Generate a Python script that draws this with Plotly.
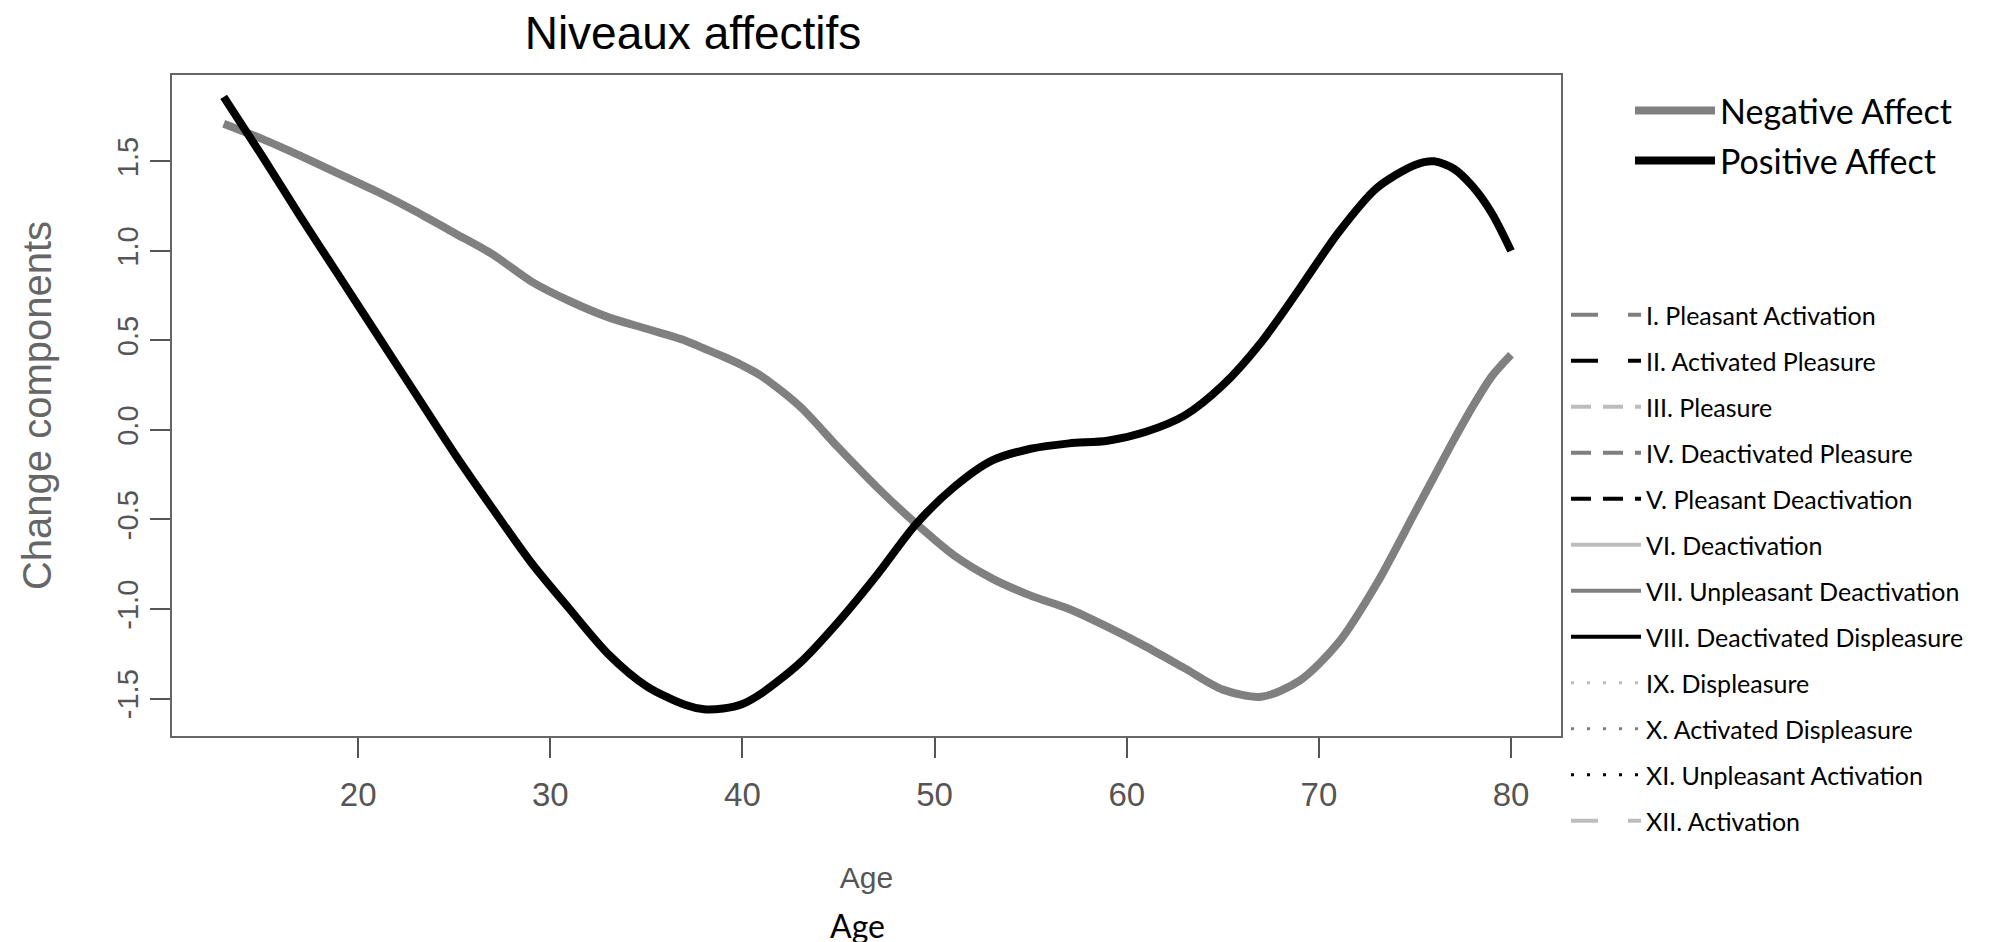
import plotly.graph_objects as go

# ---------------- data ----------------
ages = [13, 15, 17, 19, 21, 23, 25, 27, 29, 31, 33, 35, 37, 38, 39, 40, 41, 43, 45, 47,
        49, 51, 53, 55, 57, 59, 61, 63, 65, 67, 69, 71, 73, 75, 76, 77, 78, 79, 80]

positive_affect = [1.86, 1.53, 1.19, 0.86, 0.53, 0.20, -0.13, -0.44, -0.74, -1.00, -1.25,
                   -1.43, -1.535, -1.56, -1.555, -1.53, -1.47, -1.30, -1.07, -0.81,
                   -0.53, -0.32, -0.17, -0.105, -0.075, -0.06, -0.01, 0.08, 0.25, 0.49,
                   0.79, 1.10, 1.35, 1.48, 1.50, 1.46, 1.36, 1.21, 1.00]

negative_affect = [1.71, 1.625, 1.53, 1.43, 1.33, 1.22, 1.10, 0.98, 0.83, 0.72, 0.63,
                   0.565, 0.50, 0.455, 0.41, 0.36, 0.30, 0.13, -0.10, -0.32,
                   -0.52, -0.70, -0.83, -0.925, -1.00, -1.10, -1.21, -1.33, -1.45, -1.49,
                   -1.40, -1.19, -0.86, -0.46, -0.26, -0.06, 0.13, 0.30, 0.42]

x_tick_vals = [20, 30, 40, 50, 60, 70, 80]
y_tick_vals = [-1.5, -1.0, -0.5, 0.0, 0.5, 1.0, 1.5]
y_tick_text = ["-1.5", "-1.0", "-0.5", "0.0", "0.5", "1.0", "1.5"]

component_names = [
    "I. Pleasant Activation", "II. Activated Pleasure", "III. Pleasure",
    "IV. Deactivated Pleasure", "V. Pleasant Deactivation", "VI. Deactivation",
    "VII. Unpleasant Deactivation", "VIII. Deactivated Displeasure", "IX. Displeasure",
    "X. Activated Displeasure", "XI. Unpleasant Activation", "XII. Activation",
]

# ---------------- styles ----------------
LIGHT, MID, DARK = "#BDBDBD", "#7F7F7F", "#000000"
component_colors = [MID, DARK, LIGHT, MID, DARK, LIGHT, MID, DARK, LIGHT, MID, DARK, LIGHT]
LONG, SHORT, DOT = "27px,30px", "20px,12px", "3px,13px"
component_dashes = [LONG, LONG, SHORT, SHORT, SHORT, "solid", "solid", "solid", DOT, DOT, DOT, LONG]

W, H = 2003, 942
L, R, T, B = 164, 1553, 67, 728

fig = go.Figure()

legend_layouts = {}
main_font = dict(family="Lato, sans-serif", size=34, color="#000000")
comp_font = dict(family="Lato, sans-serif", size=25, color="#000000")

main_series = [("Negative Affect", negative_affect, "#808080", 103),
               ("Positive Affect", positive_affect, "#000000", 153)]
for i, (name, vals, col, yc) in enumerate(main_series):
    key = "legend" if i == 0 else f"legend{i + 1}"
    fig.add_trace(go.Scatter(x=ages, y=vals, mode="lines", name=name, showlegend=True,
                             line=dict(color=col, width=8, shape="spline", smoothing=0.8),
                             legend=key))
    legend_layouts[key] = dict(x=1622 / W, xref="container", xanchor="left",
                               y=1 - yc / H, yref="container", yanchor="middle",
                               font=main_font, itemwidth=80,
                               bgcolor="rgba(0,0,0,0)", borderwidth=0)

for j, (name, col, dash) in enumerate(zip(component_names, component_colors, component_dashes)):
    key = f"legend{j + 3}"
    fig.add_trace(go.Scatter(x=[None], y=[None], mode="lines", name=name, showlegend=True,
                             line=dict(color=col, width=4 if dash != DOT else 3, dash=dash),
                             legend=key, hoverinfo="skip"))
    yc = 307 + 46.0 * j
    legend_layouts[key] = dict(x=1558 / W, xref="container", xanchor="left",
                               y=1 - yc / H, yref="container", yanchor="middle",
                               font=comp_font, itemwidth=70,
                               bgcolor="rgba(0,0,0,0)", borderwidth=0)

axis_font = dict(family="Liberation Sans, Arial, sans-serif", color="#555555")

fig.update_layout(
    width=W, height=H,
    showlegend=True,
    margin=dict(l=L, r=W - R, t=T, b=H - B, autoexpand=False),
    paper_bgcolor="white", plot_bgcolor="white",
    title=dict(text="Niveaux affectifs", x=685 / W, xref="container", xanchor="center",
               y=1 - 25 / H, yref="container", yanchor="middle",
               font=dict(family="Liberation Sans, Arial, sans-serif", size=46, color="#000000")),
    xaxis=dict(range=[10.31, 82.6], tickvals=x_tick_vals, ticks="outside", ticklen=20,
               tickwidth=1.5, tickcolor="#555555", showline=True, linecolor="#666666",
               linewidth=2, mirror=True, showgrid=False, zeroline=False,
               tickfont=dict(size=33, **axis_font), ticklabelstandoff=8,
               title=dict(text="Age", font=dict(size=30, **axis_font), standoff=55),
               automargin=False),
    yaxis=dict(range=[-1.709, 1.982], tickvals=y_tick_vals, ticktext=y_tick_text,
               ticks="outside", ticklen=20, tickwidth=1.5, tickcolor="#555555",
               showline=True, linecolor="#666666", linewidth=2, mirror=True,
               showgrid=False, zeroline=False, tickangle=-90,
               tickfont=dict(size=29, **axis_font),
               title=dict(text="Change components",
                          font=dict(size=40, family="Liberation Sans, Arial, sans-serif",
                                    color="#666666"), standoff=48),
               automargin=False),
    annotations=[dict(text="Age", x=(849 - L) / (R - L), y=(B - 917) / (B - T),
                      xref="paper", yref="paper", showarrow=False, xanchor="center",
                      yanchor="middle",
                      font=dict(family="Lato, sans-serif", size=32, color="#000000"))],
    **legend_layouts,
)

fig.write_html("out.html")
